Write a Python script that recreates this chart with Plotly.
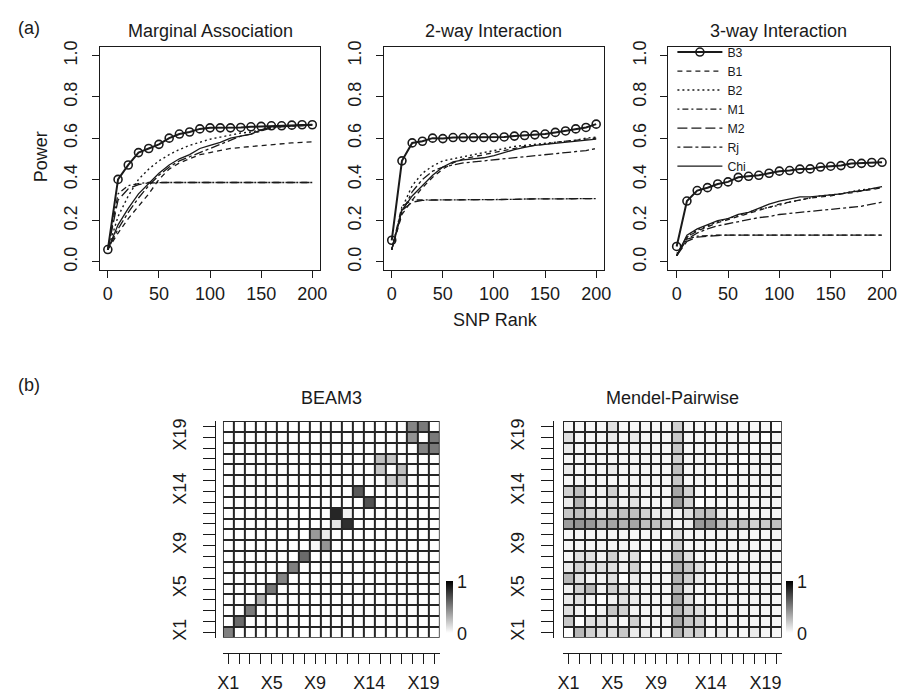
import plotly.graph_objects as go

W, H = 915, 698
FONT = "Liberation Sans, Arial, Helvetica, sans-serif"
INK = "#1a1a1a"

# ---------------- Panel (a): power curves ----------------
snp_rank = list(range(0, 201, 10))
methods = ["B3", "B1", "B2", "M1", "M2", "Rj", "Chi"]
panel_titles = ["Marginal Association", "2-way Interaction", "3-way Interaction"]

# Marginal association
B3_marg = [0.06, 0.40, 0.47, 0.53, 0.55, 0.57, 0.60, 0.62, 0.63, 0.645, 0.65, 0.65, 0.65, 0.652, 0.655, 0.657, 0.66, 0.66, 0.663, 0.665, 0.665]
B1_marg = [0.06, 0.14, 0.21, 0.27, 0.33, 0.40, 0.45, 0.48, 0.50, 0.52, 0.53, 0.54, 0.55, 0.555, 0.56, 0.565, 0.57, 0.575, 0.577, 0.58, 0.582]
B2_marg = [0.06, 0.22, 0.32, 0.40, 0.45, 0.49, 0.52, 0.545, 0.565, 0.58, 0.595, 0.605, 0.615, 0.625, 0.63, 0.64, 0.65, 0.655, 0.66, 0.662, 0.665]
M1_marg = [0.06, 0.33, 0.37, 0.38, 0.385, 0.385, 0.385, 0.385, 0.385, 0.385, 0.385, 0.385, 0.385, 0.385, 0.385, 0.385, 0.385, 0.385, 0.385, 0.385, 0.385]
M2_marg = [0.06, 0.30, 0.355, 0.375, 0.383, 0.385, 0.385, 0.385, 0.385, 0.385, 0.385, 0.385, 0.385, 0.385, 0.385, 0.385, 0.385, 0.385, 0.385, 0.385, 0.385]
Rj_marg = [0.06, 0.16, 0.24, 0.31, 0.37, 0.42, 0.46, 0.49, 0.51, 0.53, 0.55, 0.57, 0.59, 0.61, 0.62, 0.635, 0.65, 0.655, 0.66, 0.66, 0.665]
Chi_marg = [0.06, 0.18, 0.26, 0.33, 0.38, 0.43, 0.47, 0.50, 0.52, 0.55, 0.565, 0.58, 0.60, 0.61, 0.62, 0.64, 0.655, 0.66, 0.66, 0.665, 0.665]

# 2-way interaction
B3_2way = [0.105, 0.49, 0.577, 0.585, 0.60, 0.598, 0.603, 0.603, 0.603, 0.603, 0.603, 0.606, 0.61, 0.613, 0.616, 0.62, 0.628, 0.635, 0.645, 0.652, 0.668]
B1_2way = [0.06, 0.23, 0.30, 0.36, 0.41, 0.45, 0.48, 0.50, 0.51, 0.52, 0.53, 0.54, 0.55, 0.56, 0.565, 0.57, 0.58, 0.585, 0.59, 0.595, 0.60]
B2_2way = [0.06, 0.26, 0.37, 0.43, 0.465, 0.49, 0.50, 0.51, 0.52, 0.53, 0.54, 0.55, 0.56, 0.565, 0.57, 0.575, 0.58, 0.585, 0.59, 0.60, 0.605]
M1_2way = [0.06, 0.27, 0.30, 0.30, 0.30, 0.30, 0.30, 0.30, 0.302, 0.302, 0.302, 0.303, 0.303, 0.305, 0.305, 0.306, 0.306, 0.307, 0.307, 0.307, 0.307]
M2_2way = [0.06, 0.25, 0.29, 0.298, 0.30, 0.30, 0.30, 0.30, 0.302, 0.302, 0.302, 0.303, 0.303, 0.305, 0.305, 0.306, 0.306, 0.307, 0.307, 0.307, 0.307]
Rj_2way = [0.06, 0.24, 0.34, 0.40, 0.44, 0.46, 0.47, 0.48, 0.485, 0.49, 0.495, 0.50, 0.505, 0.51, 0.515, 0.52, 0.525, 0.53, 0.535, 0.54, 0.55]
Chi_2way = [0.06, 0.25, 0.32, 0.37, 0.42, 0.46, 0.485, 0.495, 0.50, 0.505, 0.515, 0.53, 0.545, 0.555, 0.565, 0.57, 0.575, 0.58, 0.585, 0.59, 0.595]

# 3-way interaction
B3_3way = [0.075, 0.295, 0.346, 0.36, 0.378, 0.388, 0.41, 0.415, 0.42, 0.43, 0.44, 0.443, 0.45, 0.451, 0.46, 0.464, 0.467, 0.477, 0.478, 0.482, 0.483]
B1_3way = [0.03, 0.12, 0.15, 0.17, 0.19, 0.205, 0.22, 0.235, 0.25, 0.265, 0.28, 0.29, 0.30, 0.31, 0.315, 0.32, 0.33, 0.335, 0.345, 0.35, 0.36]
B2_3way = [0.03, 0.12, 0.155, 0.175, 0.195, 0.21, 0.225, 0.24, 0.255, 0.265, 0.275, 0.29, 0.30, 0.31, 0.32, 0.325, 0.33, 0.34, 0.35, 0.355, 0.36]
M1_3way = [0.04, 0.11, 0.125, 0.128, 0.13, 0.13, 0.13, 0.13, 0.13, 0.13, 0.13, 0.13, 0.13, 0.13, 0.13, 0.13, 0.13, 0.13, 0.13, 0.13, 0.13]
M2_3way = [0.03, 0.10, 0.12, 0.125, 0.128, 0.13, 0.13, 0.13, 0.13, 0.13, 0.13, 0.13, 0.13, 0.13, 0.13, 0.13, 0.13, 0.13, 0.13, 0.13, 0.13]
Rj_3way = [0.03, 0.11, 0.14, 0.16, 0.175, 0.185, 0.195, 0.205, 0.215, 0.22, 0.23, 0.235, 0.24, 0.245, 0.25, 0.255, 0.26, 0.265, 0.27, 0.28, 0.29]
Chi_3way = [0.03, 0.13, 0.16, 0.18, 0.20, 0.21, 0.23, 0.24, 0.26, 0.28, 0.295, 0.305, 0.315, 0.315, 0.32, 0.325, 0.33, 0.34, 0.345, 0.355, 0.365]

power_x_ticks = [0, 50, 100, 150, 200]
power_y_ticks = [0.0, 0.2, 0.4, 0.6, 0.8, 1.0]
power_y_ticktext = ["0.0", "0.2", "0.4", "0.6", "0.8", "1.0"]

# ---------------- Panel (b): heatmaps ----------------
var_labels = ["X%d" % i for i in range(1, 21)]
shown_var_labels = ["X1", "X5", "X9", "X14", "X19"]
scale_ticks = [0, 1]

# rows listed from X1 (bottom) to X20 (top); columns X1..X20
beam3_z = [
    [0.50, 0, 0, 0, 0, 0, 0, 0, 0, 0, 0, 0, 0, 0, 0, 0, 0, 0, 0, 0],
    [0, 0.58, 0, 0, 0, 0, 0, 0, 0, 0, 0, 0, 0, 0, 0, 0, 0, 0, 0, 0],
    [0, 0, 0.52, 0, 0, 0, 0, 0, 0, 0, 0, 0, 0, 0, 0, 0, 0, 0, 0, 0],
    [0, 0, 0, 0.30, 0, 0, 0, 0, 0, 0, 0, 0, 0, 0, 0, 0, 0, 0, 0, 0],
    [0, 0, 0, 0, 0.52, 0, 0, 0, 0, 0, 0, 0, 0, 0, 0, 0, 0, 0, 0, 0],
    [0, 0, 0, 0, 0, 0.48, 0, 0, 0, 0, 0, 0, 0, 0, 0, 0, 0, 0, 0, 0],
    [0, 0, 0, 0, 0, 0, 0.50, 0, 0, 0, 0, 0, 0, 0, 0, 0, 0, 0, 0, 0],
    [0, 0, 0, 0, 0, 0, 0, 0.58, 0, 0, 0, 0, 0, 0, 0, 0, 0, 0, 0, 0],
    [0, 0, 0, 0, 0, 0, 0, 0, 0.03, 0.42, 0, 0, 0, 0, 0, 0, 0, 0, 0, 0],
    [0, 0, 0, 0, 0, 0, 0, 0, 0.40, 0.08, 0, 0, 0, 0, 0, 0, 0, 0, 0, 0],
    [0, 0, 0, 0, 0, 0, 0, 0, 0, 0, 0.10, 0.82, 0, 0, 0, 0, 0, 0, 0, 0],
    [0, 0, 0, 0, 0, 0, 0, 0, 0, 0, 0.85, 0.05, 0, 0, 0, 0, 0, 0, 0, 0],
    [0, 0, 0, 0, 0, 0, 0, 0, 0, 0, 0, 0, 0, 0.68, 0, 0, 0, 0, 0, 0],
    [0, 0, 0, 0, 0, 0, 0, 0, 0, 0, 0, 0, 0.65, 0, 0, 0, 0, 0, 0, 0],
    [0, 0, 0, 0, 0, 0, 0, 0, 0, 0, 0, 0, 0, 0, 0, 0.20, 0.22, 0, 0, 0],
    [0, 0, 0, 0, 0, 0, 0, 0, 0, 0, 0, 0, 0, 0, 0.22, 0, 0.25, 0, 0, 0],
    [0, 0, 0, 0, 0, 0, 0, 0, 0, 0, 0, 0, 0, 0, 0.25, 0.22, 0, 0, 0, 0],
    [0, 0, 0, 0, 0, 0, 0, 0, 0, 0, 0, 0, 0, 0, 0, 0, 0, 0, 0.48, 0.52],
    [0, 0, 0, 0, 0, 0, 0, 0, 0, 0, 0, 0, 0, 0, 0, 0, 0, 0.42, 0, 0.52],
    [0, 0, 0, 0, 0, 0, 0, 0, 0, 0, 0, 0, 0, 0, 0, 0, 0, 0.48, 0.52, 0],
]

mendel_z = [
    [0.00, 0.28, 0.18, 0.12, 0.12, 0.22, 0.08, 0.08, 0.03, 0.03, 0.30, 0.18, 0.18, 0.03, 0.08, 0.03, 0.03, 0.08, 0.03, 0.03],
    [0.22, 0.00, 0.12, 0.12, 0.08, 0.03, 0.18, 0.03, 0.03, 0.03, 0.35, 0.22, 0.18, 0.03, 0.03, 0.03, 0.03, 0.03, 0.03, 0.03],
    [0.12, 0.05, 0.00, 0.05, 0.22, 0.18, 0.05, 0.03, 0.03, 0.03, 0.30, 0.18, 0.12, 0.03, 0.03, 0.03, 0.03, 0.03, 0.03, 0.03],
    [0.08, 0.12, 0.05, 0.00, 0.05, 0.12, 0.08, 0.03, 0.03, 0.03, 0.35, 0.12, 0.03, 0.03, 0.03, 0.03, 0.03, 0.03, 0.03, 0.03],
    [0.05, 0.18, 0.28, 0.05, 0.18, 0.12, 0.05, 0.03, 0.03, 0.03, 0.28, 0.08, 0.03, 0.03, 0.03, 0.03, 0.03, 0.03, 0.03, 0.03],
    [0.28, 0.12, 0.05, 0.05, 0.12, 0.00, 0.08, 0.03, 0.03, 0.03, 0.30, 0.18, 0.08, 0.03, 0.03, 0.03, 0.03, 0.03, 0.03, 0.03],
    [0.08, 0.18, 0.12, 0.12, 0.12, 0.05, 0.18, 0.03, 0.03, 0.03, 0.30, 0.22, 0.12, 0.03, 0.03, 0.03, 0.03, 0.03, 0.03, 0.03],
    [0.03, 0.12, 0.12, 0.05, 0.18, 0.05, 0.12, 0.00, 0.03, 0.03, 0.28, 0.12, 0.03, 0.03, 0.03, 0.03, 0.03, 0.03, 0.03, 0.03],
    [0.03, 0.03, 0.03, 0.03, 0.03, 0.03, 0.03, 0.03, 0.00, 0.03, 0.18, 0.03, 0.03, 0.03, 0.03, 0.03, 0.03, 0.03, 0.03, 0.03],
    [0.03, 0.03, 0.03, 0.03, 0.03, 0.03, 0.03, 0.03, 0.03, 0.00, 0.12, 0.03, 0.03, 0.03, 0.03, 0.03, 0.03, 0.03, 0.03, 0.03],
    [0.38, 0.42, 0.40, 0.30, 0.35, 0.30, 0.35, 0.25, 0.25, 0.18, 0.05, 0.08, 0.40, 0.40, 0.25, 0.20, 0.25, 0.18, 0.20, 0.25],
    [0.22, 0.25, 0.18, 0.12, 0.18, 0.25, 0.25, 0.18, 0.08, 0.08, 0.05, 0.12, 0.25, 0.25, 0.08, 0.03, 0.03, 0.03, 0.03, 0.03],
    [0.08, 0.30, 0.05, 0.05, 0.12, 0.05, 0.12, 0.03, 0.03, 0.03, 0.38, 0.18, 0.00, 0.03, 0.03, 0.03, 0.03, 0.03, 0.03, 0.03],
    [0.18, 0.25, 0.05, 0.05, 0.18, 0.05, 0.08, 0.03, 0.03, 0.03, 0.35, 0.18, 0.03, 0.00, 0.03, 0.03, 0.03, 0.03, 0.03, 0.03],
    [0.03, 0.03, 0.03, 0.03, 0.03, 0.03, 0.03, 0.03, 0.03, 0.03, 0.22, 0.03, 0.03, 0.03, 0.00, 0.03, 0.03, 0.03, 0.03, 0.03],
    [0.08, 0.03, 0.03, 0.03, 0.08, 0.03, 0.03, 0.03, 0.03, 0.03, 0.25, 0.03, 0.03, 0.03, 0.03, 0.00, 0.03, 0.03, 0.03, 0.03],
    [0.03, 0.03, 0.03, 0.03, 0.03, 0.03, 0.03, 0.03, 0.03, 0.03, 0.18, 0.03, 0.03, 0.03, 0.03, 0.03, 0.00, 0.03, 0.03, 0.03],
    [0.08, 0.03, 0.03, 0.03, 0.03, 0.03, 0.03, 0.03, 0.03, 0.03, 0.22, 0.03, 0.03, 0.03, 0.03, 0.03, 0.03, 0.00, 0.03, 0.03],
    [0.12, 0.03, 0.03, 0.03, 0.08, 0.03, 0.08, 0.03, 0.03, 0.03, 0.22, 0.03, 0.03, 0.03, 0.03, 0.03, 0.03, 0.03, 0.00, 0.03],
    [0.03, 0.03, 0.03, 0.03, 0.12, 0.03, 0.03, 0.03, 0.03, 0.03, 0.18, 0.03, 0.03, 0.03, 0.03, 0.03, 0.03, 0.03, 0.03, 0.00],
]

# ---------------- helpers ----------------
def px_x(p):
    return p / W

def px_y(p):
    return 1 - p / H

line_styles = {
    "B3": dict(dash="solid", width=2.0),
    "B1": dict(dash="5px,4px", width=1.3),
    "B2": dict(dash="2px,3px", width=1.4),
    "M1": dict(dash="2px,3px,6px,3px", width=1.3),
    "M2": dict(dash="10px,4px", width=1.3),
    "Rj": dict(dash="3px,3px,9px,3px", width=1.3),
    "Chi": dict(dash="solid", width=1.3),
}

panels = [
    {"B3": B3_marg, "B1": B1_marg, "B2": B2_marg, "M1": M1_marg, "M2": M2_marg, "Rj": Rj_marg, "Chi": Chi_marg},
    {"B3": B3_2way, "B1": B1_2way, "B2": B2_2way, "M1": M1_2way, "M2": M2_2way, "Rj": Rj_2way, "Chi": Chi_2way},
    {"B3": B3_3way, "B1": B1_3way, "B2": B2_3way, "M1": M1_3way, "M2": M2_3way, "Rj": Rj_3way, "Chi": Chi_3way},
]

# plot-area pixel boxes
line_boxes_x = [(95, 319), (383, 607), (672, 897)]
line_box_y = (41, 267)
heat_boxes_x = [(220, 440), (565, 787)]
heat_box_y = (420, 640)

fig = go.Figure()

for i, data in enumerate(panels):
    ax = "" if i == 0 else str(i + 1)
    order = ["Chi", "Rj", "M2", "M1", "B2", "B1", "B3"]
    for m in order:
        st = line_styles[m]
        tr = dict(
            x=snp_rank, y=data[m], name=m,
            line=dict(color=INK, width=st["width"], dash=st["dash"]),
            xaxis="x" + ax, yaxis="y" + ax,
            showlegend=(i == 2), legendrank=methods.index(m) + 1,
            hoverinfo="skip",
        )
        if m == "B3":
            tr["mode"] = "lines+markers"
            tr["marker"] = dict(symbol="circle-open", size=8, color=INK, line=dict(width=1.6, color=INK))
        else:
            tr["mode"] = "lines"
        fig.add_trace(go.Scatter(**tr))

# heatmaps
cs = [[0, "white"], [1, "black"]]
for k, (z, ca) in enumerate([(beam3_z, "coloraxis"), (mendel_z, "coloraxis2")]):
    ax = str(k + 4)
    # dark grid underlay shown through the gaps
    fig.add_trace(go.Heatmap(
        z=[[1 for _ in var_labels] for _ in var_labels], x=var_labels, y=var_labels,
        colorscale=[[0, "#262626"], [1, "#262626"]], showscale=False,
        xaxis="x" + ax, yaxis="y" + ax, hoverinfo="skip",
    ))
    fig.add_trace(go.Heatmap(
        z=z, x=var_labels, y=var_labels, coloraxis=ca, xgap=2, ygap=2,
        xaxis="x" + ax, yaxis="y" + ax, hoverinfo="skip",
    ))

tickfont = dict(family=FONT, size=18, color=INK)
layout_axes = {}
for i in range(3):
    sfx = "" if i == 0 else str(i + 1)
    x0, x1 = line_boxes_x[i]
    layout_axes["xaxis" + sfx] = dict(
        domain=[px_x(x0), px_x(x1)], anchor="y" + sfx, range=[-8, 208],
        tickmode="array", tickvals=power_x_ticks, ticks="outside", ticklen=7,
        tickcolor=INK, tickwidth=1, showline=True, mirror=True, linecolor=INK, linewidth=1,
        showgrid=False, zeroline=False, tickfont=tickfont, ticklabelstandoff=0,
    )
    layout_axes["yaxis" + sfx] = dict(
        domain=[px_y(line_box_y[1]), px_y(line_box_y[0])], anchor="x" + sfx, range=[-0.04, 1.04],
        tickmode="array", tickvals=power_y_ticks, ticktext=power_y_ticktext, tickangle=-90,
        ticks="outside", ticklen=7, tickcolor=INK, tickwidth=1,
        showline=True, mirror=True, linecolor=INK, linewidth=1,
        showgrid=False, zeroline=False, tickfont=tickfont, ticklabelstandoff=7,
    )

heat_yaxis_pos = [212, 555]
heat_xaxis_pos = 655
heat_ticktext = [l if l in shown_var_labels else "" for l in var_labels]
for k in range(2):
    sfx = str(k + 4)
    x0, x1 = heat_boxes_x[k]
    layout_axes["xaxis" + sfx] = dict(
        domain=[px_x(x0), px_x(x1)], anchor="free", position=px_y(heat_xaxis_pos),
        type="category", range=[-0.5, len(var_labels) - 0.5],
        tickmode="array", tickvals=var_labels, ticktext=heat_ticktext,
        ticks="outside", ticklen=10, tickcolor=INK, showline=True, linecolor=INK, linewidth=1,
        showgrid=False, zeroline=False, tickfont=tickfont, tickangle=0, ticklabelstandoff=4,
    )
    layout_axes["yaxis" + sfx] = dict(
        domain=[px_y(heat_box_y[1]), px_y(heat_box_y[0])], anchor="free", position=px_x(heat_yaxis_pos[k]),
        type="category", range=[-0.5, len(var_labels) - 0.5],
        tickmode="array", tickvals=var_labels, ticktext=heat_ticktext, tickangle=-90,
        ticks="outside", ticklen=12, tickcolor=INK, showline=True, linecolor=INK, linewidth=1,
        showgrid=False, zeroline=False, tickfont=tickfont, ticklabelstandoff=10,
    )

def cbar(xpx):
    return dict(
        x=px_x(xpx), xanchor="left", xpad=0, y=px_y(609), yanchor="middle", ypad=0,
        len=52, lenmode="pixels", thickness=7, outlinewidth=0,
        tickmode="array", tickvals=scale_ticks, ticktext=[str(v) for v in scale_ticks],
        ticks="", tickfont=tickfont,
    )

def ann(text, xpx, ypx, size=18, angle=0):
    return dict(text=text, x=px_x(xpx), y=px_y(ypx), xref="paper", yref="paper",
                xanchor="center", yanchor="middle", showarrow=False, textangle=angle,
                font=dict(family=FONT, size=size, color=INK))

annotations = [
    ann("(a)", 23, 21),
    ann("(b)", 23, 383),
    ann("Power", 35, 152, angle=-90),
    ann("SNP Rank", 497, 318),
    ann(panel_titles[0], 207, 24),
    ann(panel_titles[1], 495, 24),
    ann(panel_titles[2], 784, 24),
    ann("BEAM3", 330, 397),
    ann("Mendel-Pairwise", 676, 397),
]

fig.update_layout(
    width=W, height=H, margin=dict(l=0, r=0, t=0, b=0),
    paper_bgcolor="white", plot_bgcolor="white",
    font=dict(family=FONT, size=16, color=INK),
    annotations=annotations,
    coloraxis=dict(colorscale=cs, cmin=0, cmax=1, colorbar=cbar(446)),
    coloraxis2=dict(colorscale=cs, cmin=0, cmax=1, colorbar=cbar(791)),
    legend=dict(x=px_x(676), y=px_y(31), xanchor="left", yanchor="top",
                bgcolor="rgba(0,0,0,0)", borderwidth=0, tracegroupgap=0,
                font=dict(family=FONT, size=12.3, color=INK), itemwidth=45),
    **layout_axes,
)

fig.write_html("out.html")
